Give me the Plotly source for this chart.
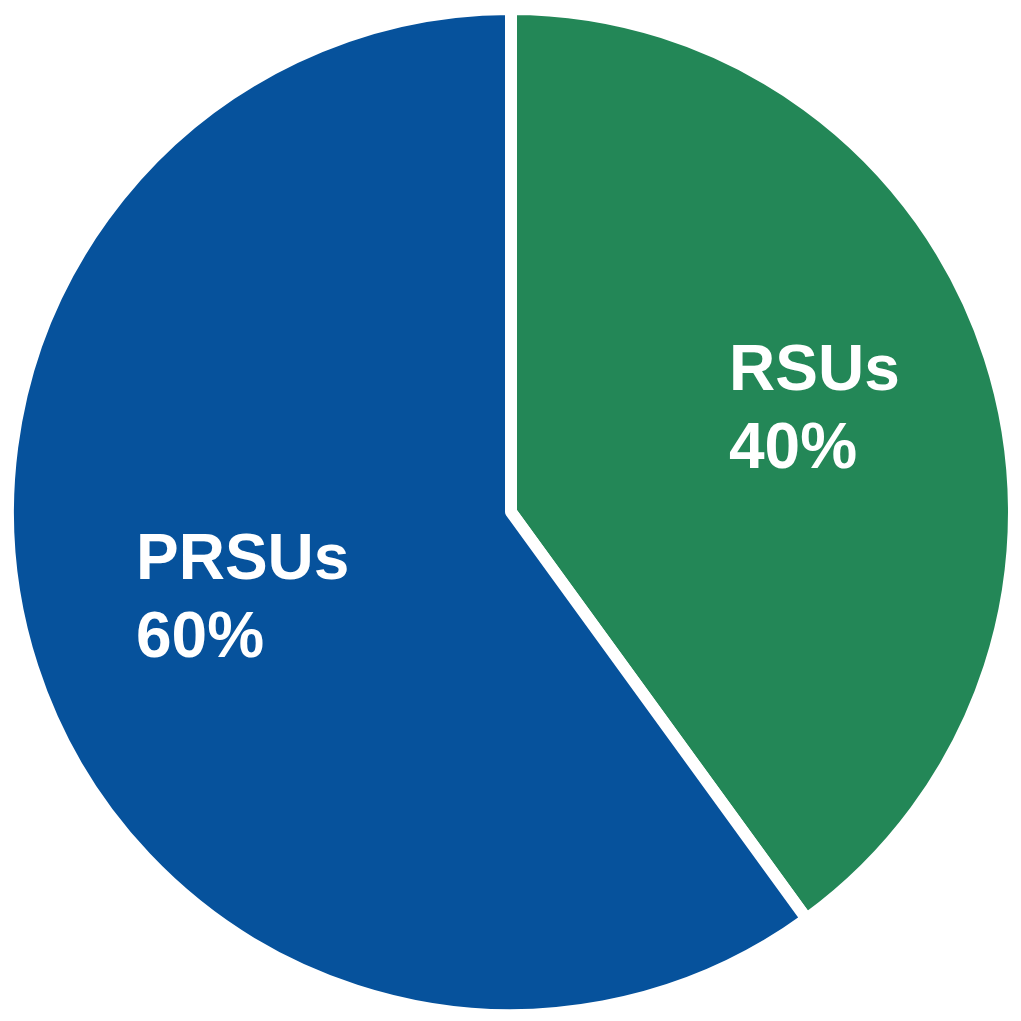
import plotly.graph_objects as go

labels = ["RSUs", "PRSUs"]
values = [40, 60]
colors = ["#238757", "#06529C"]

W = H = 1021
# label anchor positions (figure pixels from top-left): left x, middle of first line, middle of second line
label_pos = {"RSUs": (730, 365, 444), "PRSUs": (128, 556, 635)}

fig = go.Figure(go.Pie(
    labels=labels,
    values=values,
    sort=False,
    direction="clockwise",
    rotation=0,
    marker=dict(colors=colors, line=dict(color="white", width=12)),
    textinfo="none",
    hoverinfo="label+percent",
    showlegend=False,
))

annotations = []
for lab, val in zip(labels, values):
    x, y1, y2 = label_pos[lab]
    for txt, yy in ((lab, y1), (f"{val}%", y2)):
        annotations.append(dict(
            text=txt, x=x / W, y=1 - yy / H, xref="paper", yref="paper",
            xanchor="left", yanchor="middle", showarrow=False, align="left",
            font=dict(family="Liberation Sans, Arial, sans-serif", size=64, color="white", weight="bold"),
        ))

fig.update_layout(
    width=W, height=H,
    margin=dict(l=0, r=15, t=0, b=13),
    paper_bgcolor="white", plot_bgcolor="white",
    annotations=annotations,
)

fig.write_html("out.html")
